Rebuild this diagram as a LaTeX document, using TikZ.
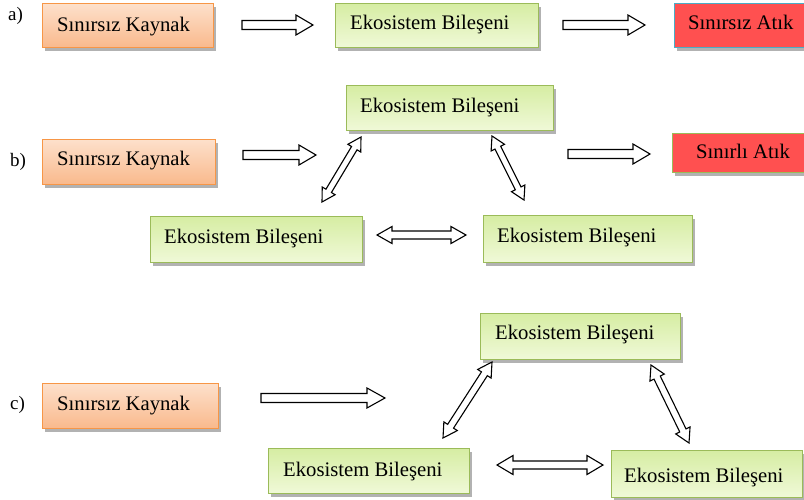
\documentclass[tikz,border=0pt]{standalone}
\usepackage{fontspec}
\setmainfont{Liberation Serif}
\usetikzlibrary{calc,shadows}
\definecolor{orbd}{HTML}{F79646}
\definecolor{ortop}{HTML}{FDE0CB}
\definecolor{orbot}{HTML}{F9B98C}
\definecolor{grbd}{HTML}{9BBB59}
\definecolor{grtop}{HTML}{D6EDA3}
\definecolor{grbot}{HTML}{F0F9D8}
\definecolor{redfill}{HTML}{FF5050}
\definecolor{cyanbd}{HTML}{4BACC6}
\tikzset{
  boxbase/.style={rectangle, draw, line width=1.1pt, inner sep=0pt, anchor=north west,
     drop shadow={shadow xshift=2pt, shadow yshift=-3pt, fill=black, opacity=0.3}},
  orbox/.style={boxbase, draw=orbd, top color=ortop, bottom color=orbot},
  grbox/.style={boxbase, draw=grbd, top color=grtop, bottom color=grbot},
  rdbox/.style={boxbase, fill=redfill},
  txt/.style={anchor=base west, inner sep=0pt, font=\fontsize{20.7}{24}\selectfont},
  lbl/.style={anchor=base west, inner sep=0pt, font=\fontsize{19}{22}\selectfont},
  barrow/.style={draw=black, fill=white, line width=1.1pt, line join=miter}
}
% single block arrow: from, to, shaft half, head half, head length
\newcommand\sarrow[5]{%
\draw[barrow] ($(#1)!#3!90:(#2)$) -- ($(#2)!#5!(#1)!#3!-90:(#1)$) -- ($(#2)!#5!(#1)!#4!-90:(#1)$) -- (#2) -- ($(#2)!#5!(#1)!#4!90:(#1)$) -- ($(#2)!#5!(#1)!#3!90:(#1)$) -- ($(#1)!#3!-90:(#2)$) -- cycle;}
% double block arrow
\newcommand\darrow[5]{%
\draw[barrow] (#1) -- ($(#1)!#5!(#2)!#4!90:(#2)$) -- ($(#1)!#5!(#2)!#3!90:(#2)$) -- ($(#2)!#5!(#1)!#3!-90:(#1)$) -- ($(#2)!#5!(#1)!#4!-90:(#1)$) -- (#2) -- ($(#2)!#5!(#1)!#4!90:(#1)$) -- ($(#2)!#5!(#1)!#3!90:(#1)$) -- ($(#1)!#5!(#2)!#3!-90:(#2)$) -- ($(#1)!#5!(#2)!#4!-90:(#2)$) -- cycle;}
\begin{document}
\begin{tikzpicture}[x=1pt,y=-1pt]
\useasboundingbox[fill=white] (0,0) rectangle (804,499);
% ---------- a ----------
\node[lbl] (la) at (8,20) {a)};
\node[orbox, minimum width=171pt, minimum height=44pt] (ka) at (42,3) {};
\node[txt] (ka-t) at (57,31) {Sınırsız Kaynak};
\node[grbox, minimum width=203pt, minimum height=44pt] (ea) at (335,3) {};
\node[txt] (ea-t) at (350,29.5) {Ekosistem Bileşeni};
\node[rdbox, draw=cyanbd, minimum width=141pt, minimum height=44pt] (ra) at (674,3) {};
\node[txt] (ra-t) at (688,29.5) {Sınırsız Atık};
\coordinate (a1s) at (242,25); \coordinate (a1e) at (313,25);
\coordinate (a2s) at (563,25); \coordinate (a2e) at (645,25);
\sarrow{a1s}{a1e}{4.5pt}{10pt}{17pt}
\sarrow{a2s}{a2e}{4.5pt}{10pt}{17pt}
% ---------- b ----------
\node[lbl] (lb) at (10,166) {b)};
\node[orbox, minimum width=173pt, minimum height=45pt] (kb) at (42,139) {};
\node[txt] (kb-t) at (57,165) {Sınırsız Kaynak};
\node[grbox, minimum width=207pt, minimum height=45pt] (eb1) at (346,85) {};
\node[txt] (eb1-t) at (360,112) {Ekosistem Bileşeni};
\node[grbox, minimum width=212pt, minimum height=46pt] (eb2) at (150,216) {};
\node[txt] (eb2-t) at (164,243) {Ekosistem Bileşeni};
\node[grbox, minimum width=209pt, minimum height=47pt] (eb3) at (483,215) {};
\node[txt] (eb3-t) at (497,242) {Ekosistem Bileşeni};
\node[rdbox, draw=grbd, minimum width=140pt, minimum height=39pt] (rb) at (672,133) {};
\node[txt] (rb-t) at (696,158) {Sınırlı Atık};
\coordinate (b1s) at (243,155); \coordinate (b1e) at (316,155);
\coordinate (b2s) at (568,154); \coordinate (b2e) at (650,154);
\sarrow{b1s}{b1e}{4.5pt}{10pt}{17pt}
\sarrow{b2s}{b2e}{4.5pt}{10pt}{17pt}
\coordinate (bd1a) at (361,137); \coordinate (bd1b) at (322,202);
\coordinate (bd2a) at (492,136); \coordinate (bd2b) at (524,200);
\coordinate (bd3a) at (377,235); \coordinate (bd3b) at (466,235);
\darrow{bd1a}{bd1b}{3.2pt}{7.5pt}{13pt}
\darrow{bd2a}{bd2b}{3.2pt}{7.5pt}{13pt}
\darrow{bd3a}{bd3b}{4pt}{8.5pt}{15pt}
% ---------- c ----------
\node[lbl] (lc) at (10,409) {c)};
\node[orbox, minimum width=176pt, minimum height=45pt] (kc) at (42,383) {};
\node[txt] (kc-t) at (57,410) {Sınırsız Kaynak};
\node[grbox, minimum width=200pt, minimum height=46pt] (ec1) at (480,313) {};
\node[txt] (ec1-t) at (495,339) {Ekosistem Bileşeni};
\node[grbox, minimum width=201pt, minimum height=45pt] (ec2) at (268,448) {};
\node[txt] (ec2-t) at (283,476) {Ekosistem Bileşeni};
\node[grbox, minimum width=191pt, minimum height=47pt] (ec3) at (611,450) {};
\node[txt] (ec3-t) at (624,482) {Ekosistem Bileşeni};
\coordinate (c1s) at (261,398); \coordinate (c1e) at (385,398);
\sarrow{c1s}{c1e}{4.5pt}{10pt}{18pt}
\coordinate (cd1a) at (492,362); \coordinate (cd1b) at (443,438);
\coordinate (cd2a) at (651,365); \coordinate (cd2b) at (689,443);
\coordinate (cd3a) at (497,465); \coordinate (cd3b) at (603,465);
\darrow{cd1a}{cd1b}{3.5pt}{8pt}{14pt}
\darrow{cd2a}{cd2b}{3.5pt}{8pt}{14pt}
\darrow{cd3a}{cd3b}{4pt}{9.5pt}{16pt}
\end{tikzpicture}
\end{document}
